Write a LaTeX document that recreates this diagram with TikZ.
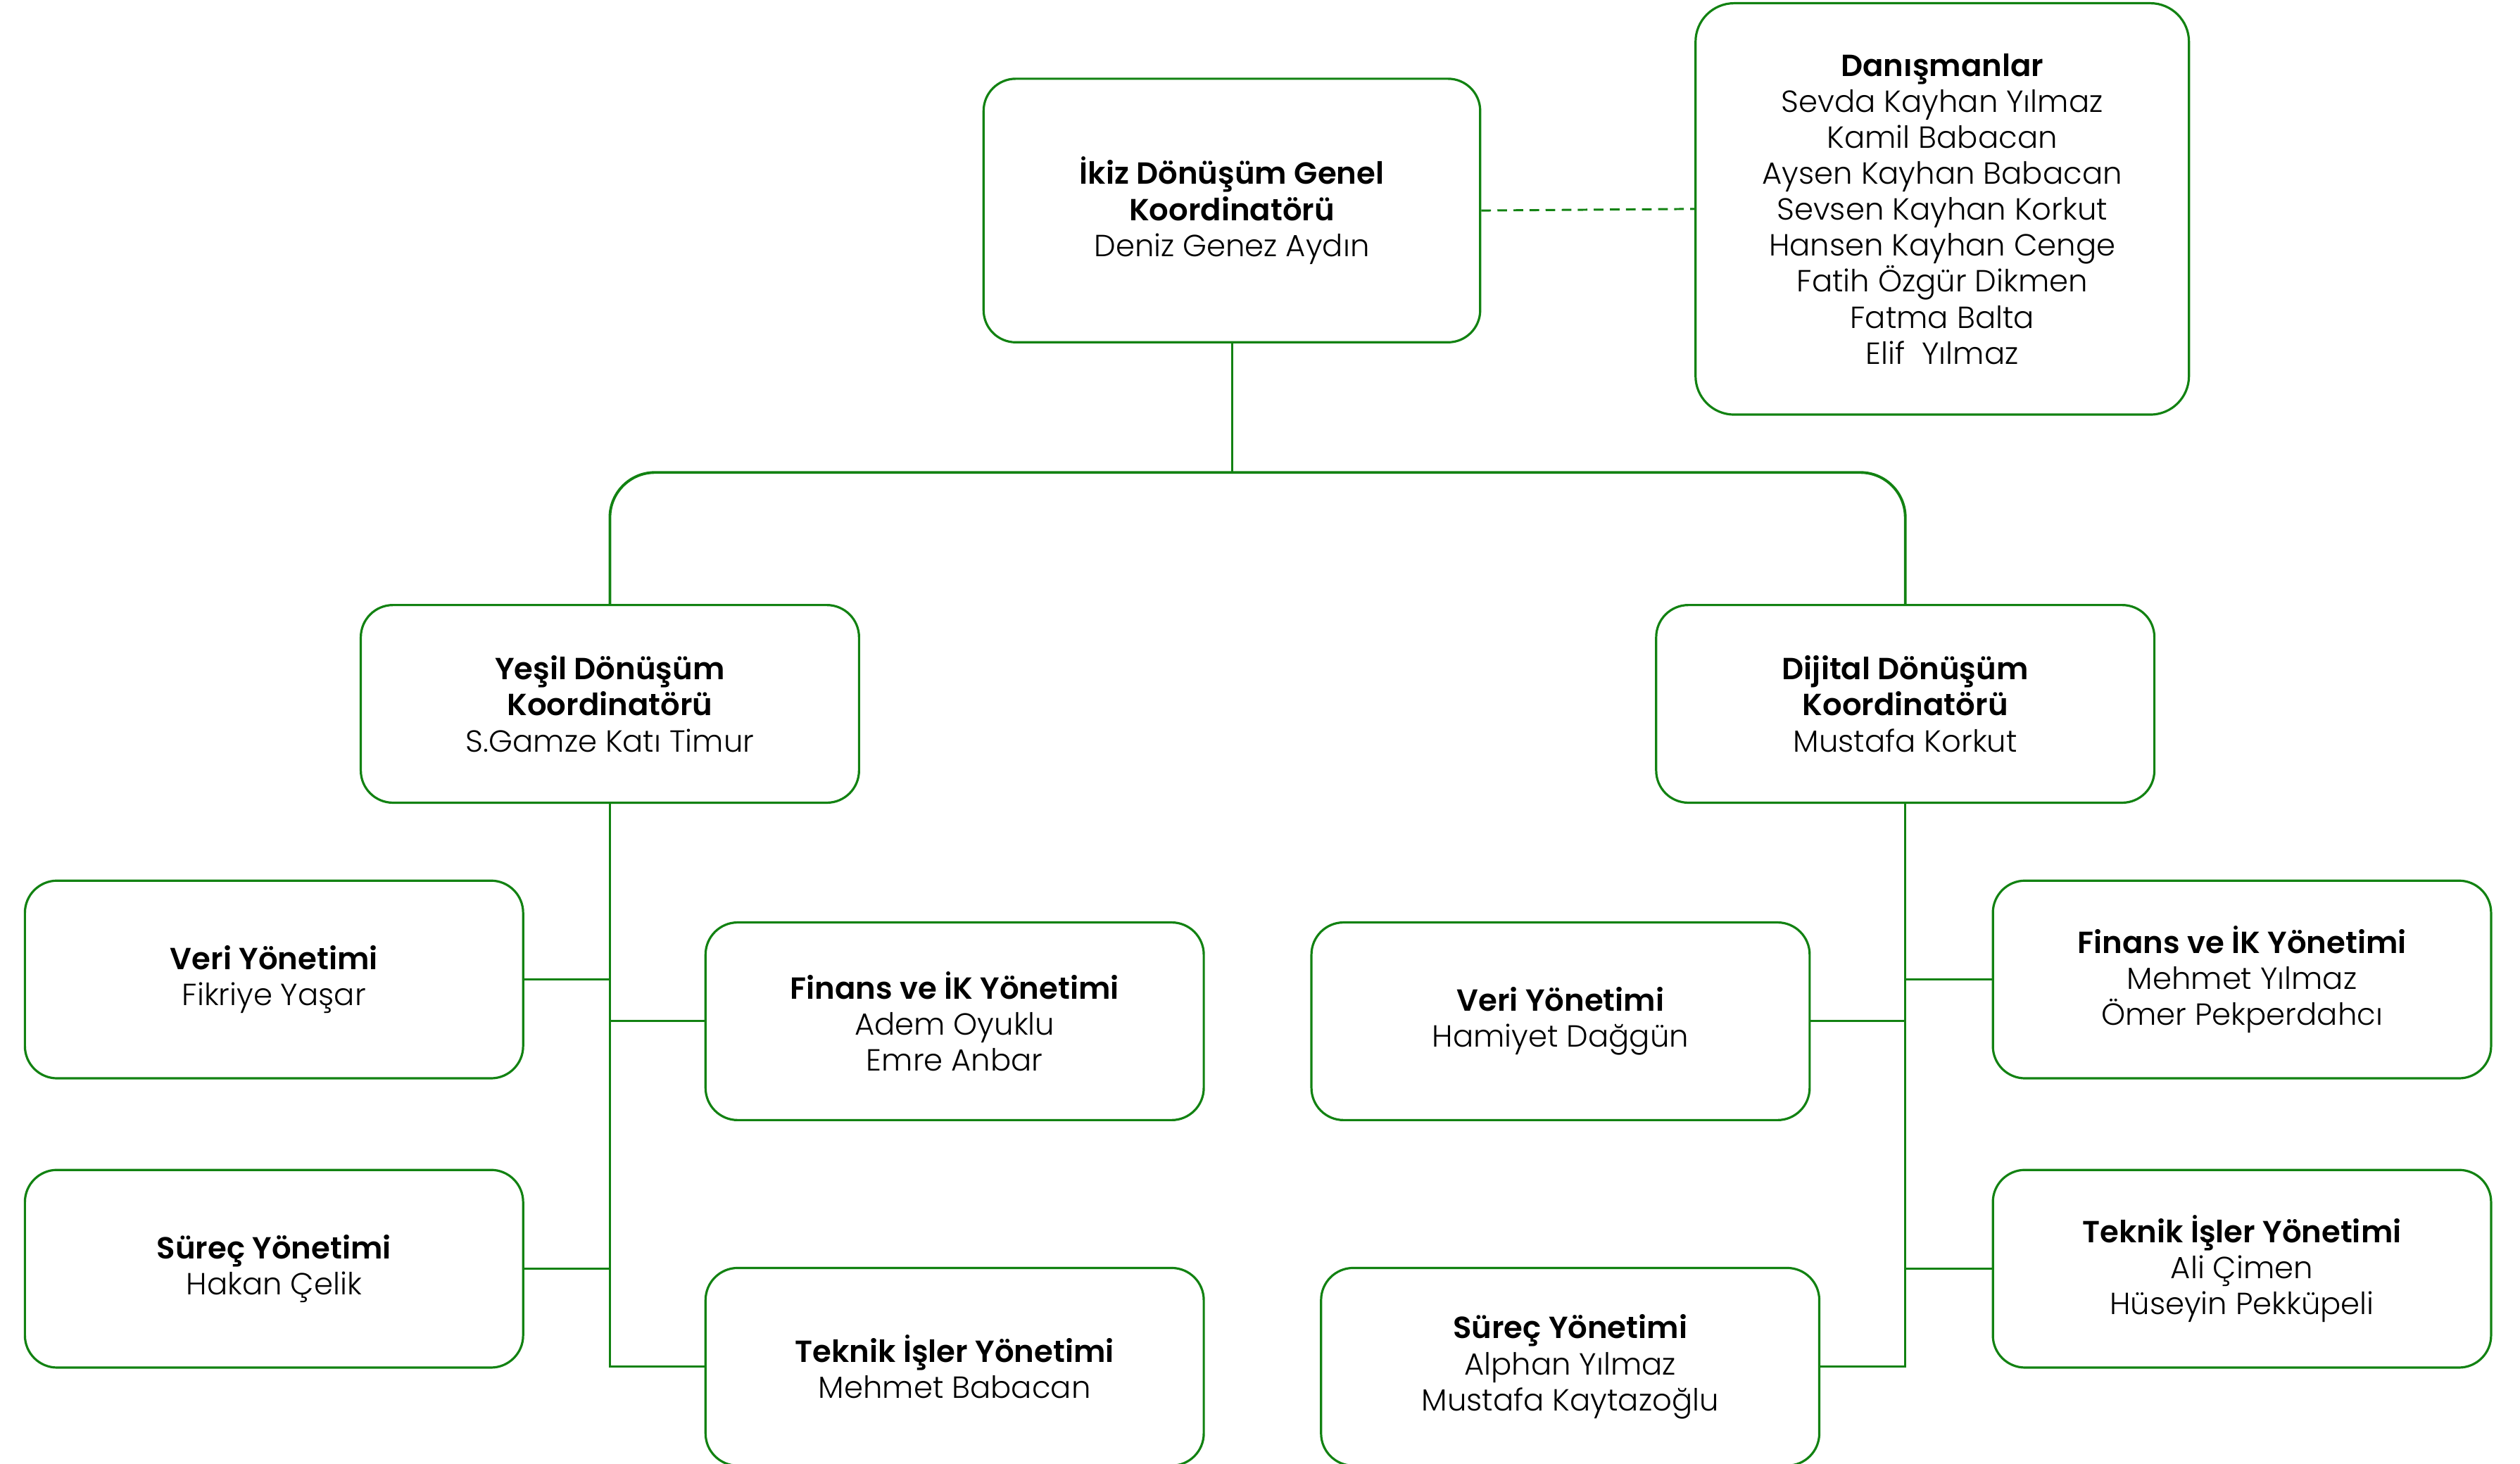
\documentclass[tikz,border=0pt]{standalone}
\usepackage{fontspec}
\setmainfont{Poppins Light}[BoldFont={Poppins SemiBold}]
\definecolor{og}{RGB}{18,130,18}
\begin{document}
\begin{tikzpicture}[x=1pt,y=-1pt,
  box/.style={draw=og, line width=1.4pt, rounded corners=20pt, minimum width=310pt,
    minimum height=123pt, inner sep=0pt, align=center, fill=white,
    font=\fontsize{19}{22.4}\selectfont},
  link/.style={draw=og, line width=1.3pt}]
\useasboundingbox (0,0) rectangle (1568,911);

\node[box, minimum width=309pt, minimum height=164pt] (A) at (766.5,131)
  {\textbf{İkiz Dönüşüm Genel}\\\textbf{Koordinatörü}\\Deniz Genez Aydın};
\node[box, minimum width=307pt, minimum height=256pt, rounded corners=24pt] (D) at (1208.5,130)
  {\textbf{Danışmanlar}\\Sevda Kayhan Yılmaz\\Kamil Babacan\\Aysen Kayhan Babacan\\Sevsen Kayhan Korkut\\Hansen Kayhan Cenge\\Fatih Özgür Dikmen\\Fatma Balta\\Elif\ \ Yılmaz};

\node[box] (Y) at (379.5,438) {\textbf{Yeşil Dönüşüm}\\\textbf{Koordinatörü}\\S.Gamze Katı Timur};
\node[box] (G) at (1185.5,438) {\textbf{Dijital Dönüşüm}\\\textbf{Koordinatörü}\\Mustafa Korkut};

\node[box] (L1) at (170.5,609.5) {\textbf{Veri Yönetimi}\\Fikriye Yaşar};
\node[box] (L2) at (594,635.5) {\textbf{Finans ve İK Yönetimi}\\Adem Oyuklu\\Emre Anbar};
\node[box] (L3) at (170.5,789.5) {\textbf{Süreç Yönetimi}\\Hakan Çelik};
\node[box] (L4) at (594,850.5) {\textbf{Teknik İşler Yönetimi}\\Mehmet Babacan};

\node[box] (R1) at (1395,609.5) {\textbf{Finans ve İK Yönetimi}\\Mehmet Yılmaz\\Ömer Pekperdahcı};
\node[box] (R2) at (971,635.5) {\textbf{Veri Yönetimi}\\Hamiyet Dağgün};
\node[box] (R3) at (1395,789.5) {\textbf{Teknik İşler Yönetimi}\\Ali Çimen\\Hüseyin Pekküpeli};
\node[box] (R4) at (977,850.5) {\textbf{Süreç Yönetimi}\\Alphan Yılmaz\\Mustafa Kaytazoğlu};

\coordinate (split) at (766.5,294);
\draw[link] (A.south) -- (split);
\draw[link, line width=1.7pt, rounded corners=28pt] (split) -| (Y.north);
\draw[link, line width=1.7pt, rounded corners=28pt] (split) -| (G.north);
\draw[link, dash pattern=on 6pt off 4pt] (A.east) -- (D.west);

\draw[link] (Y.south) -- (Y.south |- L4.west) -- (L4.west);
\draw[link] (L1.east) -- (L1.east -| Y.south);
\draw[link] (L2.west) -- (L2.west -| Y.south);
\draw[link] (L3.east) -- (L3.east -| Y.south);

\draw[link] (G.south) -- (G.south |- R4.east) -- (R4.east);
\draw[link] (R1.west) -- (R1.west -| G.south);
\draw[link] (R2.east) -- (R2.east -| G.south);
\draw[link] (R3.west) -- (R3.west -| G.south);
\end{tikzpicture}
\end{document}
